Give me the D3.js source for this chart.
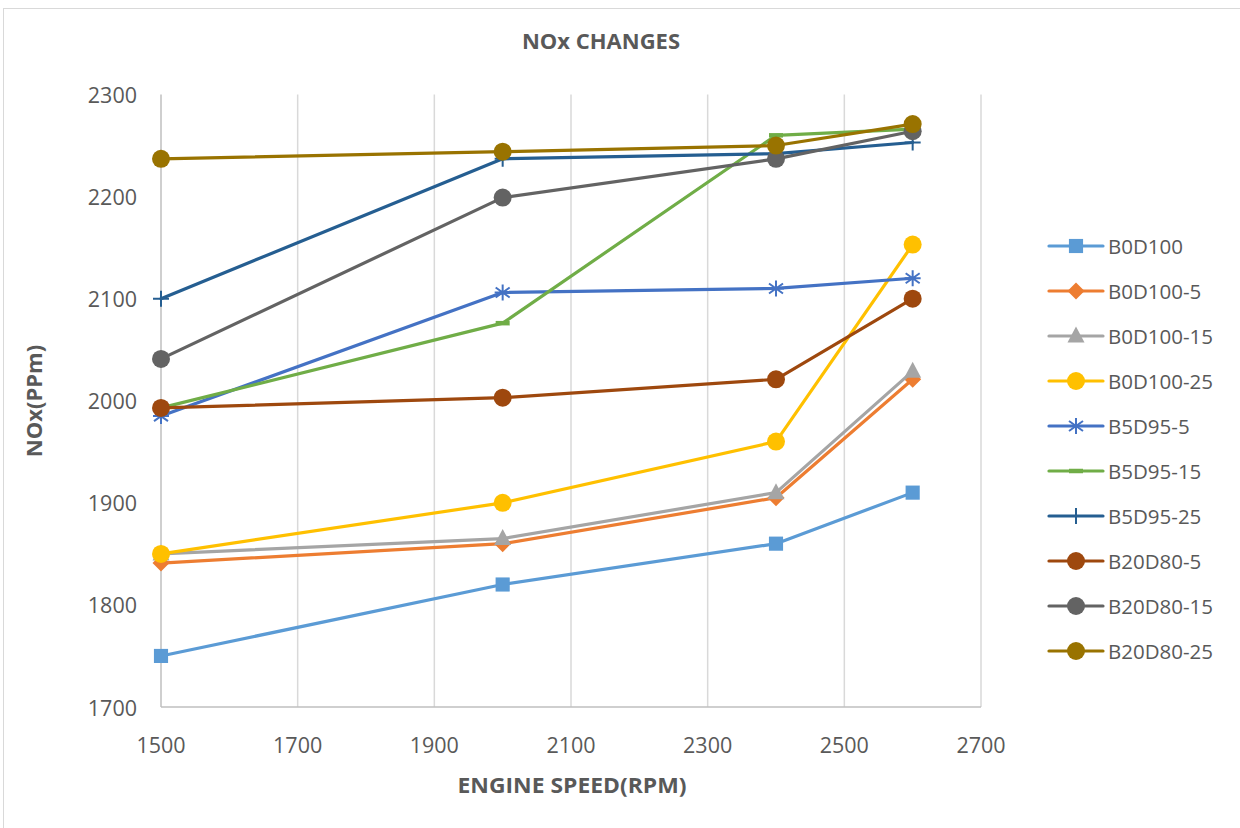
<!DOCTYPE html>
<html>
<head>
<meta charset="utf-8">
<script src="https://cdn.jsdelivr.net/npm/d3@7"></script>
<style>
  html, body { margin: 0; padding: 0; background: #fff; }
  svg { display: block; }
  text { font-family: "Open Sans", "Noto Sans", sans-serif; fill: #595959; }
</style>
</head>
<body>
<svg id="chart" width="1240" height="828"></svg>
<script>
// Engine speed (RPM) at which NOx was measured
const speeds = [1500, 2000, 2400, 2600];

// Blend names, in drawing order
const seriesNames = ["B0D100", "B0D100-5", "B0D100-15", "B0D100-25", "B5D95-5",
                     "B5D95-15", "B5D95-25", "B20D80-5", "B20D80-15", "B20D80-25"];

// NOx readings (ppm) for each blend
const b0d100    = [1750, 1820, 1860, 1910];
const b0d100_5  = [1841, 1860, 1905, 2021];
const b0d100_15 = [1850, 1865, 1910, 2029];
const b0d100_25 = [1850, 1900, 1960, 2153];
const b5d95_5   = [1985, 2106, 2110, 2120];
const b5d95_15  = [1993, 2076, 2260, 2266];
const b5d95_25  = [2100, 2237, 2242, 2253];
const b20d80_5  = [1993, 2003, 2021, 2100];
const b20d80_15 = [2041, 2199, 2237, 2264];
const b20d80_25 = [2237, 2244, 2250, 2271];

const seriesValues = [b0d100, b0d100_5, b0d100_15, b0d100_25, b5d95_5,
                      b5d95_15, b5d95_25, b20d80_5, b20d80_15, b20d80_25];

// Axis ticks
const xTicks = [1500, 1700, 1900, 2100, 2300, 2500, 2700];
const yTicks = [1700, 1800, 1900, 2000, 2100, 2200, 2300];

const colors = ["#5B9BD5", "#ED7D31", "#A5A5A5", "#FFC000", "#4472C4",
                "#70AD47", "#255E91", "#9E480E", "#636363", "#997300"];
const markers = ["square", "diamond", "triangle", "circle", "star",
                 "dash", "plus", "circle", "circle", "circle"];

const svg = d3.select("#chart");

// Chart frame
svg.append("rect")
  .attr("x", 3.5).attr("y", 8.5)
  .attr("width", 1240).attr("height", 830)
  .attr("fill", "none").attr("stroke", "#d9d9d9").attr("stroke-width", 1);

const x = d3.scaleLinear().domain([1500, 2700]).range([161, 981]);
const y = d3.scaleLinear().domain([1700, 2300]).range([707, 94.5]);

// Vertical gridlines
svg.append("g")
  .selectAll("line")
  .data(xTicks.slice(1))
  .join("line")
  .attr("x1", d => x(d)).attr("x2", d => x(d))
  .attr("y1", y(2300)).attr("y2", y(1700))
  .attr("stroke", "#d9d9d9").attr("stroke-width", 1.5);

// Axis lines
svg.append("line")
  .attr("x1", x(1500)).attr("x2", x(1500))
  .attr("y1", y(2300)).attr("y2", y(1700))
  .attr("stroke", "#bfbfbf").attr("stroke-width", 1.5);
svg.append("line")
  .attr("x1", x(1500)).attr("x2", x(2700))
  .attr("y1", y(1700)).attr("y2", y(1700))
  .attr("stroke", "#bfbfbf").attr("stroke-width", 1.5);

// Tick labels
svg.append("g")
  .selectAll("text")
  .data(yTicks)
  .join("text")
  .attr("x", 137).attr("y", d => y(d))
  .attr("text-anchor", "end").attr("dominant-baseline", "central")
  .attr("font-size", 21.5)
  .text(d => d);

svg.append("g")
  .selectAll("text")
  .data(xTicks)
  .join("text")
  .attr("x", d => x(d)).attr("y", 744)
  .attr("text-anchor", "middle").attr("dominant-baseline", "central")
  .attr("font-size", 21.5)
  .text(d => d);

// Titles
svg.append("text")
  .attr("x", 601).attr("y", 41)
  .attr("text-anchor", "middle").attr("dominant-baseline", "central")
  .attr("font-size", 21).attr("font-weight", "bold")
  .attr("textLength", 158).attr("lengthAdjust", "spacingAndGlyphs")
  .text("NOx CHANGES");

svg.append("text")
  .attr("x", 572).attr("y", 784)
  .attr("text-anchor", "middle").attr("dominant-baseline", "central")
  .attr("font-size", 22).attr("font-weight", "bold")
  .attr("fill", "#404040")
  .attr("textLength", 229).attr("lengthAdjust", "spacingAndGlyphs")
  .text("ENGINE SPEED(RPM)");

svg.append("text")
  .attr("transform", "translate(33,401) rotate(-90)")
  .attr("text-anchor", "middle").attr("dominant-baseline", "central")
  .attr("font-size", 22).attr("font-weight", "bold")
  .attr("fill", "#404040")
  .text("NOx(PPm)");

// Marker drawing
function drawMarker(g, type, color) {
  if (type === "square") {
    g.append("path").attr("d", d3.symbol(d3.symbolSquare, 200)()).attr("fill", color);
  } else if (type === "diamond") {
    g.append("path").attr("d", "M0,-8.5L8.5,0L0,8.5L-8.5,0Z").attr("fill", color);
  } else if (type === "triangle") {
    g.append("path").attr("d", "M0,-9.5L8.5,6.5L-8.5,6.5Z").attr("fill", color);
  } else if (type === "circle") {
    g.append("circle").attr("r", 9).attr("fill", color);
  } else if (type === "star") {
    g.append("path")
      .attr("d", "M0,-8L0,8M-7,-5L7,5M-7,5L7,-5M-8,0L8,0")
      .attr("stroke", color).attr("stroke-width", 2).attr("fill", "none");
  } else if (type === "dash") {
    g.append("path").attr("d", "M-7,0L7,0")
      .attr("stroke", color).attr("stroke-width", 4.5).attr("fill", "none");
  } else if (type === "plus") {
    g.append("path").attr("d", "M0,-8L0,8M-8,0L8,0")
      .attr("stroke", color).attr("stroke-width", 2).attr("fill", "none");
  }
}

const line = d3.line().x((d, i) => x(speeds[i])).y(d => y(d));

const plot = svg.append("g");
seriesValues.forEach((vals, s) => {
  const g = plot.append("g");
  g.append("path")
    .datum(vals)
    .attr("d", line)
    .attr("fill", "none")
    .attr("stroke", colors[s])
    .attr("stroke-width", 3.2)
    .attr("stroke-linejoin", "round")
    .attr("stroke-linecap", "round");
  vals.forEach((v, i) => {
    const m = g.append("g").attr("transform", `translate(${x(speeds[i])},${y(v)})`);
    drawMarker(m, markers[s], colors[s]);
  });
});

// Legend
const legend = svg.append("g");
seriesNames.forEach((name, s) => {
  const ly = 246 + s * 45;
  const item = legend.append("g").attr("transform", `translate(0,${ly})`);
  item.append("line")
    .attr("x1", 1049).attr("x2", 1103).attr("y1", 0).attr("y2", 0)
    .attr("stroke", colors[s]).attr("stroke-width", 3.2).attr("stroke-linecap", "round");
  const m = item.append("g").attr("transform", "translate(1076,0)");
  drawMarker(m, markers[s], colors[s]);
  item.append("text")
    .attr("x", 1108).attr("y", 0)
    .attr("dominant-baseline", "central")
    .attr("font-size", 20.5)
    .text(name);
});
</script>
</body>
</html>
